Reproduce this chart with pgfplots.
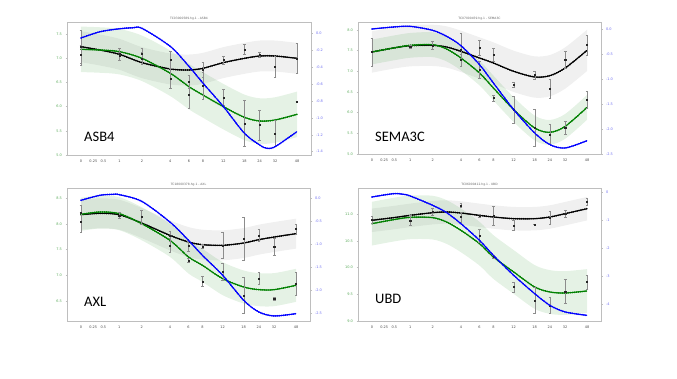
\documentclass[border=0pt]{standalone}
\usepackage{fontspec}
\setmainfont{DejaVu Sans}
\newfontfamily\panelfont{Carlito}
\usepackage{pgfplots}
\pgfplotsset{compat=1.18}
\usepgfplotslibrary{fillbetween}

\definecolor{cgreen}{rgb}{0,0.5,0}
\definecolor{cblue}{rgb}{0,0,1}
\definecolor{tickgreen}{RGB}{90,170,90}
\definecolor{tickblue}{RGB}{110,110,240}
\definecolor{boxgray}{RGB}{190,190,190}

\pgfplotsset{
  base/.style={scale only axis, xmin=-0.252, xmax=4.144,
    /pgf/number format/assume math mode=true,
    tick label style={font=\fontsize{3.5}{4}\selectfont},
    axis line style={boxgray, line width=0.7pt},
    major tick length=1.5pt, tick style={boxgray, line width=0.4pt},
    tick align=outside},
  leftax/.style={base,
    xtick={0,0.2231,0.4055,0.6931,1.0986,1.6094,1.9459,2.1972,2.5649,2.9444,3.2189,3.4965,3.8918},
    xticklabels={0,0.25,0.5,1,2,4,6,8,12,18,24,32,48},
    xtick pos=bottom, ytick pos=left,
    xticklabel style={black!70},
    yticklabel style={tickgreen, /pgf/number format/fixed,
      /pgf/number format/fixed zerofill, /pgf/number format/precision=1}},
  rightax/.style={base, hide x axis, axis y line*=right,
    yticklabel style={tickblue, /pgf/number format/fixed,
      /pgf/number format/fixed zerofill, /pgf/number format/precision=1}},
  curve/.style={smooth, line width=0.9pt,
    postaction={draw, line width=1.7pt, line cap=round, dash pattern=on 0.35pt off 1.6pt}},
  grayband/.style={fill=black, fill opacity=0.06, draw=none},
  greenband/.style={fill=cgreen, fill opacity=0.10, draw=none},
  pts/.style={only marks, mark=square*, mark size=0.55pt, black!85,
    error bars/.cd, y dir=both, y explicit,
    error bar style={black!45, line width=0.35pt},
    error mark options={black!45, mark size=1.3pt, rotate=90, line width=0.35pt}},
}

\begin{document}
\begin{tikzpicture}

% ---------------- ASB4 ----------------
\begin{axis}[leftax, at={(67pt,224pt)}, width=244pt, height=133pt,
  ymin=5, ymax=7.748, ytick={5,5.5,6,6.5,7,7.5}]
\addplot[name path=au, draw=none, smooth] coordinates {(0,7.558)(0.342,7.489)(0.6931,7.400)(1.0986,7.228)(1.6094,7.097)(1.9459,7.076)(2.1972,7.111)(2.5649,7.228)(2.9444,7.317)(3.2189,7.365)(3.4965,7.365)(3.8918,7.317)};
\addplot[name path=al, draw=none, smooth] coordinates {(0,6.918)(0.342,6.849)(0.6931,6.760)(1.0986,6.588)(1.6094,6.457)(1.9459,6.436)(2.1972,6.471)(2.5649,6.588)(2.9444,6.677)(3.2189,6.725)(3.4965,6.725)(3.8918,6.677)};
\addplot[grayband] fill between[of=au and al];
\addplot[name path=agu, draw=none, smooth] coordinates {(0,7.653)(0.342,7.639)(0.6931,7.605)(1.0986,7.467)(1.6094,7.157)(1.9459,6.882)(2.1972,6.710)(2.5649,6.469)(2.9444,6.248)(3.2189,6.172)(3.4965,6.193)(3.8918,6.310)};
\addplot[name path=agl, draw=none, smooth] coordinates {(0,6.713)(0.342,6.699)(0.6931,6.665)(1.0986,6.527)(1.6094,6.217)(1.9459,5.942)(2.1972,5.770)(2.5649,5.529)(2.9444,5.308)(3.2189,5.232)(3.4965,5.253)(3.8918,5.370)};
\addplot[greenband] fill between[of=agu and agl];
\addplot[curve, black] coordinates {(0,7.238)(0.342,7.169)(0.6931,7.080)(1.0986,6.908)(1.6094,6.777)(1.9459,6.756)(2.1972,6.791)(2.5649,6.908)(2.9444,6.997)(3.2189,7.045)(3.4965,7.045)(3.8918,6.997)};
\addplot[curve, cgreen] coordinates {(0,7.183)(0.342,7.169)(0.6931,7.135)(1.0986,6.997)(1.6094,6.687)(1.9459,6.412)(2.1972,6.240)(2.5649,5.999)(2.9444,5.778)(3.2189,5.702)(3.4965,5.723)(3.8918,5.840)};
\addplot[pts] table[x=x, y=y, y error=e] {
x y e
0 7.238 0.344
0 7.066 0.207
0.6931 7.087 0.124
0.6931 7.045 0.083
1.0986 7.100 0.103
1.0986 6.997 0.124
1.6094 6.963 0.172
1.6094 6.584 0.207
1.9459 6.515 0.138
1.9459 6.240 0.275
2.1972 6.756 0.152
2.1972 6.426 0.275
2.5649 6.963 0.083
2.5649 6.191 0.172
2.9444 7.183 0.103
2.9444 5.654 0.482
3.2189 7.066 0.055
3.2189 5.620 0.310
3.4965 6.825 0.207
3.4965 5.448 0.275
3.8918 6.997 0.310
3.8918 6.102 0
};
\end{axis}
\begin{axis}[rightax, at={(67pt,224pt)}, width=244pt, height=133pt,
  ymin=-1.439, ymax=0.130, ytick={-1.4,-1.2,-1,-0.8,-0.6,-0.4,-0.2,0}]
\addplot[curve, cblue] coordinates {(0,-0.059)(0.342,0.015)(0.6931,0.050)(0.943,0.062)(1.0986,0.055)(1.6094,-0.158)(1.9459,-0.394)(2.1972,-0.591)(2.5649,-0.867)(2.9444,-1.183)(3.2189,-1.321)(3.345,-1.360)(3.4965,-1.341)(3.8918,-1.163)};
\end{axis}

% ---------------- SEMA3C ----------------
\begin{axis}[leftax, at={(358pt,225pt)}, width=243pt, height=132pt,
  ymin=5, ymax=8.194, ytick={5,5.5,6,6.5,7,7.5,8}]
\addplot[name path=bu, draw=none, smooth] coordinates {(0,7.968)(0.390,8.065)(0.6931,8.121)(1.0986,8.129)(1.351,8.089)(1.6094,7.984)(1.9459,7.823)(2.1972,7.702)(2.5649,7.500)(2.9444,7.363)(3.2189,7.395)(3.4965,7.581)(3.8918,8.008)};
\addplot[name path=bl, draw=none, smooth] coordinates {(0,6.968)(0.390,7.065)(0.6931,7.121)(1.0986,7.129)(1.351,7.089)(1.6094,6.984)(1.9459,6.823)(2.1972,6.702)(2.5649,6.500)(2.9444,6.363)(3.2189,6.395)(3.4965,6.581)(3.8918,7.008)};
\addplot[grayband] fill between[of=bu and bl];
\addplot[name path=bgu, draw=none, smooth] coordinates {(0,7.768)(0.390,7.865)(0.6931,7.929)(1.0986,7.945)(1.351,7.840)(1.6094,7.623)(1.9459,7.260)(2.1972,6.897)(2.5649,6.373)(2.9444,5.929)(3.2189,5.824)(3.4965,5.969)(3.8918,6.429)};
\addplot[name path=bgl, draw=none, smooth] coordinates {(0,7.168)(0.390,7.265)(0.6931,7.329)(1.0986,7.345)(1.351,7.240)(1.6094,7.023)(1.9459,6.660)(2.1972,6.297)(2.5649,5.773)(2.9444,5.329)(3.2189,5.224)(3.4965,5.369)(3.8918,5.829)};
\addplot[greenband] fill between[of=bgu and bgl];
\addplot[curve, black] coordinates {(0,7.468)(0.390,7.565)(0.6931,7.621)(1.0986,7.629)(1.351,7.589)(1.6094,7.484)(1.9459,7.323)(2.1972,7.202)(2.5649,7.000)(2.9444,6.863)(3.2189,6.895)(3.4965,7.081)(3.8918,7.508)};
\addplot[curve, cgreen] coordinates {(0,7.468)(0.390,7.565)(0.6931,7.629)(1.0986,7.645)(1.351,7.540)(1.6094,7.323)(1.9459,6.960)(2.1972,6.597)(2.5649,6.073)(2.9444,5.629)(3.2189,5.524)(3.4965,5.669)(3.8918,6.129)};
\addplot[pts] table[x=x, y=y, y error=e] {
x y e
0 7.468 0.339
0.6931 7.605 0.040
1.0986 7.629 0.097
1.6094 7.524 0.403
1.6094 7.282 0.145
1.9459 7.565 0.177
1.9459 7.040 0.202
2.1972 7.403 0.161
2.1972 6.355 0.065
2.5649 6.677 0.065
2.5649 6.073 0.323
2.9444 6.919 0.097
2.9444 5.629 0.444
3.2189 6.581 0.226
3.2189 5.468 0.242
3.4965 7.282 0.202
3.4965 5.629 0.161
3.8918 7.645 0.242
3.8918 6.315 0.202
};
\end{axis}
\begin{axis}[rightax, at={(358pt,225pt)}, width=243pt, height=132pt,
  ymin=-2.5, ymax=0.14, ytick={-2.5,-2,-1.5,-1,-0.5,0}]
\addplot[curve, cblue] coordinates {(0,0.000)(0.390,0.040)(0.6931,0.053)(1.0986,-0.027)(1.351,-0.147)(1.6094,-0.333)(1.9459,-0.713)(2.1972,-1.080)(2.5649,-1.613)(2.9444,-2.080)(3.2189,-2.313)(3.4965,-2.380)(3.8918,-2.233)};
\end{axis}

% ---------------- AXL ----------------
\begin{axis}[leftax, at={(67pt,58pt)}, width=243pt, height=133pt,
  ymin=6.119, ymax=8.694, ytick={6.5,7,7.5,8,8.5}]
\addplot[name path=cu, draw=none, smooth] coordinates {(0,8.467)(0.342,8.493)(0.6931,8.467)(1.0986,8.306)(1.6094,8.067)(1.9459,7.938)(2.1972,7.887)(2.5649,7.874)(2.9444,7.919)(3.2189,7.984)(3.4965,8.035)(3.8918,8.100)};
\addplot[name path=cl, draw=none, smooth] coordinates {(0,7.887)(0.342,7.913)(0.6931,7.887)(1.0986,7.726)(1.6094,7.487)(1.9459,7.358)(2.1972,7.307)(2.5649,7.294)(2.9444,7.339)(3.2189,7.404)(3.4965,7.455)(3.8918,7.520)};
\addplot[grayband] fill between[of=cu and cl];
\addplot[name path=cgu, draw=none, smooth] coordinates {(0,8.504)(0.342,8.549)(0.6931,8.517)(1.0986,8.323)(1.6094,8.001)(1.9459,7.678)(2.1972,7.517)(2.5649,7.259)(2.9444,7.097)(3.2189,7.046)(3.4965,7.046)(3.8918,7.130)};
\addplot[name path=cgl, draw=none, smooth] coordinates {(0,7.864)(0.342,7.909)(0.6931,7.877)(1.0986,7.683)(1.6094,7.361)(1.9459,7.038)(2.1972,6.877)(2.5649,6.619)(2.9444,6.457)(3.2189,6.406)(3.4965,6.406)(3.8918,6.490)};
\addplot[greenband] fill between[of=cgu and cgl];
\addplot[curve, black] coordinates {(0,8.177)(0.342,8.203)(0.6931,8.177)(1.0986,8.016)(1.6094,7.777)(1.9459,7.648)(2.1972,7.597)(2.5649,7.584)(2.9444,7.629)(3.2189,7.694)(3.4965,7.745)(3.8918,7.810)};
\addplot[curve, cgreen] coordinates {(0,8.184)(0.342,8.229)(0.6931,8.197)(1.0986,8.003)(1.6094,7.681)(1.9459,7.358)(2.1972,7.197)(2.5649,6.939)(2.9444,6.777)(3.2189,6.726)(3.4965,6.726)(3.8918,6.810)};
\addplot[pts] table[x=x, y=y, y error=e] {
x y e
0 8.210 0.161
0 8.035 0.194
0.6931 8.165 0.052
1.0986 8.132 0.129
1.6094 7.765 0.097
1.6094 7.584 0.129
1.9459 7.571 0.097
1.9459 7.294 0.032
2.1972 7.565 0.032
2.1972 6.887 0.097
2.5649 7.584 0.258
2.5649 7.068 0.161
2.9444 7.713 0.419
2.9444 6.616 0.355
3.2189 7.777 0.116
3.2189 6.939 0.116
3.4965 7.552 0.161
3.4965 6.552 0.026
3.8918 7.906 0.097
3.8918 6.842 0.226
};
\end{axis}
\begin{axis}[rightax, at={(67pt,58pt)}, width=243pt, height=133pt,
  ymin=-2.659, ymax=0.216, ytick={-2.5,-2,-1.5,-1,-0.5,0}]
\addplot[curve, cblue] coordinates {(0,-0.050)(0.342,0.058)(0.583,0.079)(0.6931,0.072)(1.0986,-0.072)(1.6094,-0.519)(1.9459,-0.915)(2.1972,-1.239)(2.5649,-1.671)(2.9444,-2.212)(3.2189,-2.464)(3.4965,-2.550)(3.8918,-2.500)};
\end{axis}

% ---------------- UBD ----------------
\begin{axis}[leftax, at={(358pt,58pt)}, width=243pt, height=133pt,
  ymin=9, ymax=11.494, ytick={9,9.5,10,10.5,11}]
\addplot[name path=du, draw=none, smooth] coordinates {(0,11.108)(0.390,11.158)(0.6931,11.201)(1.0986,11.251)(1.351,11.264)(1.6094,11.245)(1.9459,11.201)(2.1972,11.170)(2.5649,11.139)(2.9444,11.139)(3.2189,11.170)(3.4965,11.233)(3.8918,11.326)};
\addplot[name path=dl, draw=none, smooth] coordinates {(0,10.668)(0.390,10.718)(0.6931,10.761)(1.0986,10.811)(1.351,10.824)(1.6094,10.805)(1.9459,10.761)(2.1972,10.730)(2.5649,10.699)(2.9444,10.699)(3.2189,10.730)(3.4965,10.793)(3.8918,10.886)};
\addplot[grayband] fill between[of=du and dl];
\addplot[name path=dgu, draw=none, smooth] coordinates {(0,11.235)(0.390,11.310)(0.6931,11.354)(1.0986,11.348)(1.351,11.266)(1.6094,11.110)(1.9459,10.860)(2.1972,10.610)(2.5649,10.329)(2.9444,10.048)(3.2189,9.954)(3.4965,9.935)(3.8918,9.973)};
\addplot[name path=dgl, draw=none, smooth] coordinates {(0,10.415)(0.390,10.490)(0.6931,10.534)(1.0986,10.528)(1.351,10.446)(1.6094,10.290)(1.9459,10.040)(2.1972,9.790)(2.5649,9.509)(2.9444,9.228)(3.2189,9.134)(3.4965,9.115)(3.8918,9.153)};
\addplot[greenband] fill between[of=dgu and dgl];
\addplot[curve, black] coordinates {(0,10.888)(0.390,10.938)(0.6931,10.981)(1.0986,11.031)(1.351,11.044)(1.6094,11.025)(1.9459,10.981)(2.1972,10.950)(2.5649,10.919)(2.9444,10.919)(3.2189,10.950)(3.4965,11.013)(3.8918,11.106)};
\addplot[curve, cgreen] coordinates {(0,10.825)(0.390,10.900)(0.6931,10.944)(1.0986,10.938)(1.351,10.856)(1.6094,10.700)(1.9459,10.450)(2.1972,10.200)(2.5649,9.919)(2.9444,9.638)(3.2189,9.544)(3.4965,9.525)(3.8918,9.563)};
\addplot[pts] table[x=x, y=y, y error=e] {
x y e
0 10.900 0.063
0.6931 10.888 0.094
1.0986 11.044 0.063
1.6094 11.169 0.044
1.6094 10.950 0.094
1.9459 10.969 0.031
1.9459 10.606 0.125
2.1972 10.981 0.175
2.1972 10.200 0.031
2.5649 10.794 0.094
2.5649 9.638 0.094
2.9444 10.813 0
2.9444 9.388 0.250
3.2189 10.938 0.125
3.2189 9.294 0.156
3.4965 11.013 0.063
3.4965 9.556 0.219
3.8918 11.231 0.063
3.8918 9.731 0.125
};
\end{axis}
\begin{axis}[rightax, at={(358pt,58pt)}, width=243pt, height=133pt,
  ymin=-4.58, ymax=0.142, ytick={-4,-3,-2,-1,0},
  yticklabel style={/pgf/number format/precision=0}]
\addplot[curve, cblue] coordinates {(0,-0.178)(0.390,-0.059)(0.571,-0.083)(0.6931,-0.142)(1.0986,-0.473)(1.351,-0.734)(1.6094,-1.124)(1.9459,-1.716)(2.1972,-2.249)(2.5649,-2.959)(2.9444,-3.609)(3.2189,-4.024)(3.4965,-4.260)(3.8918,-4.379)};
\end{axis}

% titles and panel names
\begin{scope}[every node/.style={font=\fontsize{3}{3.5}\selectfont, text=black!60, inner sep=0.5pt, anchor=south}]
\node at (189pt,358.5pt) {TC03000589.hg.1 - ASB4};
\node at (479.5pt,358.5pt) {TC07000459.hg.1 - SEMA3C};
\node at (188.5pt,192pt) {TC18000378.hg.1 - AXL};
\node at (479.5pt,192pt) {TC06000412.hg.1 - UBD};
\end{scope}
\begin{scope}[every node/.style={font=\panelfont\fontsize{14.5}{15}\selectfont, anchor=west, inner sep=0pt}]
\node at (84pt,242pt) {ASB4};
\node at (375pt,242pt) {SEMA3C};
\node at (84pt,77pt) {AXL};
\node at (375pt,80pt) {UBD};
\end{scope}
\path (0pt,0pt) rectangle (677pt,379pt);
\end{tikzpicture}
\end{document}
